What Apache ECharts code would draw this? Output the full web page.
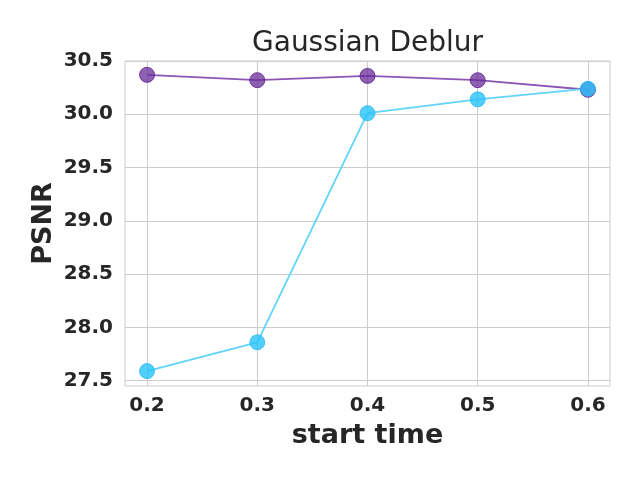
<!DOCTYPE html>
<html>
<head>
<meta charset="utf-8">
<script src="https://cdn.jsdelivr.net/npm/echarts@6/dist/echarts.min.js"></script>
<style>html,body{margin:0;padding:0;background:#fff}#main{width:640px;height:480px}</style>
</head>
<body>
<div id="main"></div>
<script>
var startTimes = [0.2, 0.3, 0.4, 0.5, 0.6];
var purpleVals = [30.37, 30.32, 30.36, 30.32, 30.23];
var cyanVals = [27.59, 27.86, 30.01, 30.14, 30.24];
var xTicks = [0.2, 0.3, 0.4, 0.5, 0.6];
var yTicks = [27.5, 28.0, 28.5, 29.0, 29.5, 30.0, 30.5];

function pairs(xs, ys) {
    return xs.map(function (x, i) { return [x, ys[i]]; });
}

var chart = echarts.init(document.getElementById('main'));
var fontFam = 'DejaVu Sans';
// title centred over the plot area, not the canvas
var plotCentre = 125 + (640 - 125 - 30) / 2;
chart.setOption({
    animation: false,
    title: {
        text: 'Gaussian Deblur',
        left: plotCentre, textAlign: 'center', top: 30, padding: 0,
        textStyle: { fontFamily: fontFam, fontSize: 28, fontWeight: 'normal', color: '#262626' }
    },
    grid: {
        left: 125, right: 30, top: 61, bottom: 94,
        show: true, borderColor: '#cccccc', borderWidth: 1
    },
    xAxis: {
        type: 'value', min: 0.18, max: 0.62,
        name: 'start time', nameLocation: 'middle', nameGap: 36,
        nameTextStyle: { fontFamily: fontFam, fontSize: 27, fontWeight: 'bold', color: '#262626' },
        axisLine: { show: false },
        axisTick: { show: false, customValues: xTicks },
        axisLabel: {
            customValues: xTicks, margin: 10,
            fontFamily: fontFam, fontSize: 20, fontWeight: 'bold', color: '#262626',
            formatter: function (v) { return v.toFixed(1); }
        },
        splitLine: { show: true, lineStyle: { color: '#cccccc', width: 1 } }
    },
    yAxis: {
        type: 'value', min: 27.45, max: 30.5,
        name: 'PSNR', nameLocation: 'middle', nameGap: 68, nameRotate: 90,
        nameMoveOverlap: false,
        nameTextStyle: { fontFamily: fontFam, fontSize: 27, fontWeight: 'bold', color: '#262626' },
        axisLine: { show: false },
        axisTick: { show: false, customValues: yTicks },
        axisLabel: {
            customValues: yTicks, margin: 12,
            fontFamily: fontFam, fontSize: 20, fontWeight: 'bold', color: '#262626',
            formatter: function (v) { return v.toFixed(1); }
        },
        splitLine: { show: true, lineStyle: { color: '#cccccc', width: 1 } }
    },
    series: [
        {
            type: 'line',
            data: pairs(startTimes, purpleVals),
            symbol: 'circle', symbolSize: 15,
            lineStyle: { color: '#8a55b5', width: 1.8 },
            itemStyle: { color: 'rgba(106,44,154,0.75)', borderColor: 'rgba(90,30,140,0.8)', borderWidth: 1 }
        },
        {
            type: 'line',
            data: pairs(startTimes, cyanVals),
            symbol: 'circle', symbolSize: 15,
            lineStyle: { color: '#5fd5fb', width: 1.8 },
            itemStyle: { color: 'rgba(40,195,250,0.8)', borderColor: 'rgba(40,185,240,0.8)', borderWidth: 1 }
        }
    ]
});
</script>
</body>
</html>
